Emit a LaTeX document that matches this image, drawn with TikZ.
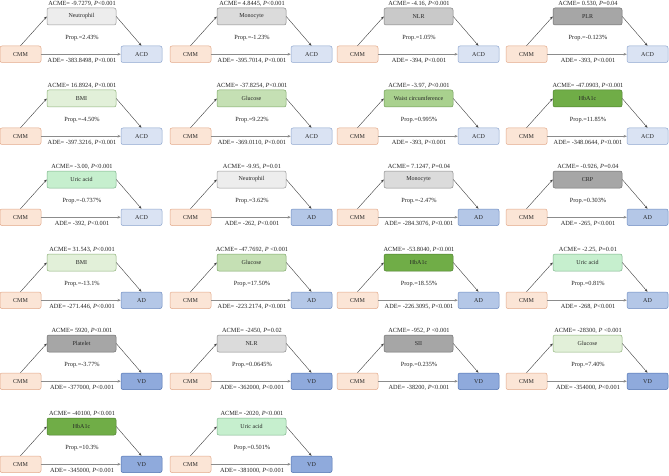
\documentclass[tikz,border=0pt]{standalone}
\usepackage{fontspec}
\setmainfont{Liberation Serif}
\usetikzlibrary{arrows.meta}
\definecolor{cmmF}{HTML}{FBE5D6}\definecolor{cmmD}{HTML}{E3A98A}
\definecolor{acdF}{HTML}{DAE3F3}\definecolor{acdD}{HTML}{8EA6CF}
\definecolor{adF}{HTML}{B4C7E7}\definecolor{adD}{HTML}{6F8DC2}
\definecolor{vdF}{HTML}{8FAADC}\definecolor{vdD}{HTML}{4F71B0}
\definecolor{g1F}{HTML}{EDEDED}\definecolor{g1D}{HTML}{9A9A9A}
\definecolor{g2F}{HTML}{DBDBDB}\definecolor{g2D}{HTML}{8A8A8A}
\definecolor{g3F}{HTML}{C9C9C9}\definecolor{g3D}{HTML}{808080}
\definecolor{g4F}{HTML}{A6A6A6}\definecolor{g4D}{HTML}{6E6E6E}
\definecolor{bmiF}{HTML}{E2F0D9}\definecolor{bmiD}{HTML}{8FB37A}
\definecolor{gluF}{HTML}{C5E0B4}\definecolor{gluD}{HTML}{7FA86A}
\definecolor{wcF}{HTML}{A9D18E}\definecolor{wcD}{HTML}{6E9A55}
\definecolor{hbF}{HTML}{70AD47}\definecolor{hbD}{HTML}{4C7F2C}
\definecolor{uaF}{HTML}{C6EFCE}\definecolor{uaD}{HTML}{7DB58A}
\newcommand\Pv{\textit{P}}
\tikzset{
  box/.style={draw, rounded corners=2pt, line width=0.5pt, inner sep=0pt,
    font=\fontsize{6}{7}\selectfont, text=black!85},
  cmmbox/.style={box, fill=cmmF, draw=cmmD, minimum width=41pt, minimum height=16.5pt},
  outbox/.style={box, minimum width=41pt, minimum height=16.5pt},
  medbox/.style={box, minimum width=69pt, minimum height=17pt},
  outACD/.style={fill=acdF, draw=acdD},
  outAD/.style={fill=adF, draw=adD},
  outVD/.style={fill=vdF, draw=vdD},
  mg1/.style={fill=g1F, draw=g1D}, mg2/.style={fill=g2F, draw=g2D},
  mg3/.style={fill=g3F, draw=g3D}, mg4/.style={fill=g4F, draw=g4D},
  mbmi/.style={fill=bmiF, draw=bmiD}, mglu/.style={fill=gluF, draw=gluD},
  mwc/.style={fill=wcF, draw=wcD}, mhb/.style={fill=hbF, draw=hbD},
  mua/.style={fill=uaF, draw=uaD},
  lab/.style={font=\fontsize{6.3}{7}\selectfont, text=black!85, inner sep=0pt},
  path/.style={draw=black!75, line width=0.4pt, -{Stealth[length=3pt,width=2.4pt]}},
  direct/.style={draw=black!45, line width=1pt, -{Stealth[length=3.2pt,width=2.8pt]}},
}
% #1 prefix, #2 X, #3 Y, #4 mediator style, #5 mediator text, #6 outcome, #7 ACME, #8 Prop, #9 ADE
\newcommand\mpanel[9]{%
  \node[cmmbox] (#1c) at (#2+20.5,#3+8.25) {CMM};
  \node[medbox,#4] (#1m) at (#2+81.5,#3-29.5) {#5};
  \node[outbox,out#6] (#1o) at (#2+141.5,#3+8.25) {#6};
  \node[lab] (#1a) at (#2+82,#3-42) {ACME= #7};
  \node[lab] (#1p) at (#2+82,#3-7.5) {Prop.=#8};
  \node[lab] (#1e) at (#2+82,#3+15) {ADE= #9};
  \draw[path] (#1c.north) -- (#1m.west);
  \draw[path] (#1m.east) -- (#1o.north);
  \draw[direct] (#1c.east) -- (#1o.west);
}
\begin{document}
\begin{tikzpicture}[x=1pt,y=-1pt]
\useasboundingbox[fill=white] (0,0) rectangle (669,476);
% row 1
\mpanel{a}{0}{46}{mg1}{Neutrophil}{ACD}{-9.7279, \Pv<0.001}{2.43\%}{-383.8498, \Pv<0.001}
\mpanel{b}{170}{46}{mg2}{Monocyte}{ACD}{4.8445, \Pv<0.001}{-1.23\%}{-395.7014, \Pv<0.001}
\mpanel{c}{337}{46}{mg3}{NLR}{ACD}{-4.16, \Pv<0.001}{1.05\%}{-394, \Pv<0.001}
\mpanel{d}{506}{46}{mg4}{PLR}{ACD}{0.530, \Pv=0.04}{-0.123\%}{-393, \Pv<0.001}
% row 2
\mpanel{e}{0}{128}{mbmi}{BMI}{ACD}{16.8924, \Pv<0.001}{-4.50\%}{-397.3216, \Pv<0.001}
\mpanel{f}{170}{128}{mglu}{Glucose}{ACD}{-37.8254, \Pv<0.001}{9.22\%}{-369.0110, \Pv<0.001}
\mpanel{g}{337}{128}{mwc}{Waist circumference}{ACD}{-3.97, \Pv<0.001}{0.995\%}{-393, \Pv<0.001}
\mpanel{h}{506}{128}{mhb}{HbA1c}{ACD}{-47.0903, \Pv<0.001}{11.85\%}{-348.0644, \Pv<0.001}
% row 3
\mpanel{i}{0}{209}{mua}{Uric acid}{ACD}{-3.00, \Pv<0.001}{-0.737\%}{-392, \Pv<0.001}
\mpanel{j}{170}{209}{mg1}{Neutrophil}{AD}{-9.95, \Pv=0.01}{3.62\%}{-262, \Pv<0.001}
\mpanel{k}{337}{209}{mg2}{Monocyte}{AD}{7.1247, \Pv=0.04}{-2.47\%}{-284.3076, \Pv<0.001}
\mpanel{l}{506}{209}{mg4}{CRP}{AD}{-0.926, \Pv=0.04}{0.303\%}{-265, \Pv<0.001}
% row 4
\mpanel{m}{0}{292}{mbmi}{BMI}{AD}{31.543, \Pv<0.001}{-13.1\%}{-271.446, \Pv<0.001}
\mpanel{n}{170}{292}{mglu}{Glucose}{AD}{-47.7692, \Pv{} <0.001}{17.50\%}{-223.2174, \Pv<0.001}
\mpanel{o}{337}{292}{mhb}{HbA1c}{AD}{-53.8040, \Pv<0.001}{18.55\%}{-226.3095, \Pv<0.001}
\mpanel{p}{506}{292}{mua}{Uric acid}{AD}{-2.25, \Pv=0.01}{0.81\%}{-268, \Pv<0.001}
% row 5
\mpanel{q}{0}{373}{mg4}{Platelet}{VD}{5920, \Pv<0.001}{-3.77\%}{-377000, \Pv<0.001}
\mpanel{r}{170}{373}{mg2}{NLR}{VD}{-2450, \Pv=0.02}{0.0645\%}{-362000, \Pv<0.001}
\mpanel{s}{337}{373}{mg4}{SII}{VD}{-952, \Pv{} <0.001}{0.235\%}{-38200, \Pv<0.001}
\mpanel{t}{506}{373}{mbmi}{Glucose}{VD}{-28300, \Pv{} <0.001}{7.40\%}{-354000, \Pv<0.001}
% row 6
\mpanel{u}{0}{456}{mhb}{HbA1c}{VD}{-40100, \Pv<0.001}{10.3\%}{-345000, \Pv<0.001}
\mpanel{v}{170}{456}{mua}{Uric acid}{VD}{-2020, \Pv<0.001}{0.501\%}{-381000, \Pv<0.001}
\end{tikzpicture}
\end{document}
